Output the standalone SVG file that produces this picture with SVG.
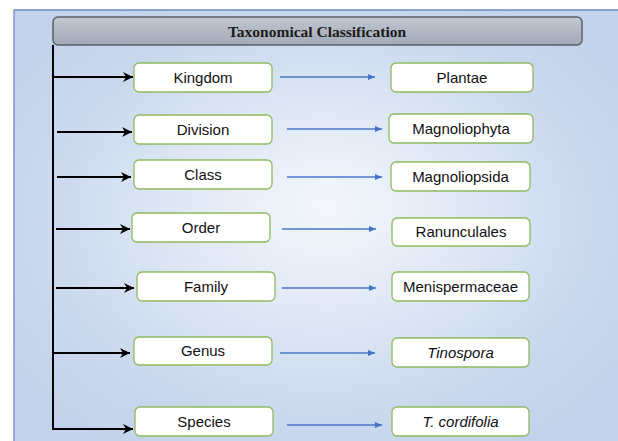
<svg xmlns="http://www.w3.org/2000/svg" width="618" height="441" viewBox="0 0 618 441">
  <defs>
    <radialGradient id="bg" cx="0.5" cy="0.5" r="0.6" fx="0.52" fy="0.45">
      <stop offset="0" stop-color="#f4f7fc"/>
      <stop offset="0.35" stop-color="#e2eaf6"/>
      <stop offset="0.75" stop-color="#cbd9ee"/>
      <stop offset="1" stop-color="#c3d3eb"/>
    </radialGradient>
    <linearGradient id="titleg" x1="0" y1="0" x2="0" y2="1">
      <stop offset="0" stop-color="#c3c8d1"/>
      <stop offset="0.5" stop-color="#b1b7c3"/>
      <stop offset="1" stop-color="#a3aab7"/>
    </linearGradient>
    <marker id="ab" markerUnits="userSpaceOnUse" markerWidth="11" markerHeight="11" refX="10" refY="5" orient="auto">
      <path d="M0,0 L10,5 L0,10 L3,5 z" fill="#000"/>
    </marker>
    <marker id="au" markerUnits="userSpaceOnUse" markerWidth="8" markerHeight="8" refX="7" refY="3" orient="auto">
      <path d="M0,0 L7,3 L0,6 z" fill="#4472c4"/>
    </marker>
  </defs>
  <style>
    .box { fill: #ffffff; stroke: #8dbb5e; stroke-width: 1.3; }
    .lbl { font-family: "Liberation Sans", Arial, sans-serif; font-size: 15px; fill: #111; text-anchor: middle; }
    .it { font-style: italic; }
    .blk { stroke: #000; stroke-width: 2; fill: none; }
    .arr { stroke: #000; stroke-width: 2; fill: none; marker-end: url(#ab); }
    .blu { stroke: #4a78c6; stroke-width: 1.5; fill: none; marker-end: url(#au); }
    .title { font-family: "Liberation Serif", "Times New Roman", serif; font-weight: bold; font-size: 15.5px; fill: #1a1a1a; text-anchor: middle; }
  </style>
  <rect x="0" y="0" width="618" height="441" fill="#ffffff"/>
  <rect x="14" y="10" width="604" height="431" fill="url(#bg)"/>
  <path d="M14,441 L14,10 L618,10" fill="none" stroke="#6f8cbf" stroke-width="1.3"/>

  <g id="title">
    <rect x="53" y="17" width="529" height="28" rx="5" fill="url(#titleg)" stroke="#5b6068" stroke-width="1.5"/>
    <text class="title" x="317" y="36.5">Taxonomical Classification</text>
  </g>

  <g id="connectors">
    <path class="blk" d="M53,45 L53,429"/>
    <path class="arr" d="M53,77 L133,77"/>
    <path class="arr" d="M57,132 L132,132"/>
    <path class="arr" d="M57,177 L131,177"/>
    <path class="arr" d="M56,229 L130,229"/>
    <path class="arr" d="M56,288 L134,288"/>
    <path class="arr" d="M53,353 L130,353"/>
    <path class="arr" d="M52,429 L133,429"/>
    <path class="blu" d="M280,77 L375,77"/>
    <path class="blu" d="M287,129 L382,129"/>
    <path class="blu" d="M287,177 L382,177"/>
    <path class="blu" d="M282,229 L376,229"/>
    <path class="blu" d="M282,288 L376,288"/>
    <path class="blu" d="M280,353 L375,353"/>
    <path class="blu" d="M287,425 L382,425"/>
  </g>

  <g id="kingdom"><rect class="box" x="134" y="63" width="138" height="29" rx="5"/><text class="lbl" x="203" y="83">Kingdom</text></g>
  <g id="division"><rect class="box" x="134" y="115" width="138" height="29" rx="5"/><text class="lbl" x="203" y="135">Division</text></g>
  <g id="class"><rect class="box" x="134" y="160" width="138" height="29" rx="5"/><text class="lbl" x="203" y="180">Class</text></g>
  <g id="order"><rect class="box" x="132" y="213" width="138" height="29" rx="5"/><text class="lbl" x="201" y="233">Order</text></g>
  <g id="family"><rect class="box" x="137" y="272" width="138" height="29" rx="5"/><text class="lbl" x="206" y="292">Family</text></g>
  <g id="genus"><rect class="box" x="134" y="337" width="138" height="28" rx="5"/><text class="lbl" x="203" y="356">Genus</text></g>
  <g id="species"><rect class="box" x="135" y="407" width="138" height="29" rx="5"/><text class="lbl" x="204" y="427">Species</text></g>

  <g id="plantae"><rect class="box" x="391" y="63" width="142" height="29" rx="5"/><text class="lbl" x="462" y="83">Plantae</text></g>
  <g id="magnoliophyta"><rect class="box" x="389" y="114" width="144" height="29" rx="5"/><text class="lbl" x="461" y="134">Magnoliophyta</text></g>
  <g id="magnoliopsida"><rect class="box" x="391" y="162" width="139" height="29" rx="5"/><text class="lbl" x="460.5" y="182">Magnoliopsida</text></g>
  <g id="ranunculales"><rect class="box" x="392" y="218" width="138" height="28" rx="5"/><text class="lbl" x="461" y="237">Ranunculales</text></g>
  <g id="menispermaceae"><rect class="box" x="392" y="272" width="137" height="29" rx="5"/><text class="lbl" x="460.5" y="292">Menispermaceae</text></g>
  <g id="tinospora"><rect class="box" x="392" y="338" width="137" height="29" rx="5"/><text class="lbl it" x="460.5" y="358">Tinospora</text></g>
  <g id="cordifolia"><rect class="box" x="392" y="407" width="137" height="29" rx="5"/><text class="lbl it" x="460.5" y="427">T. cordifolia</text></g>
</svg>
